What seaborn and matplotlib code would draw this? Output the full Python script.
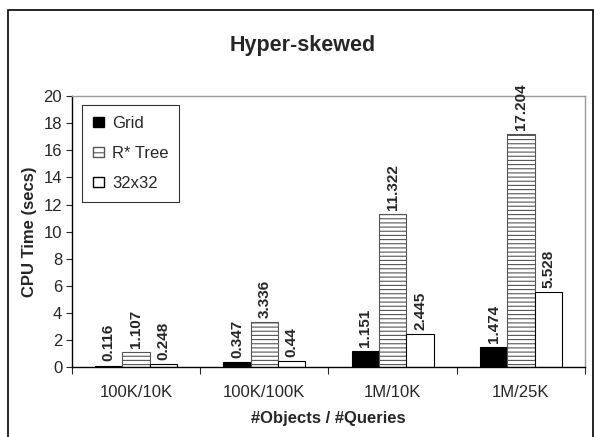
import matplotlib
matplotlib.use("Agg")
import matplotlib.pyplot as plt
import seaborn as sns
import pandas as pd
from matplotlib.patches import Rectangle, Patch

categorias = ["100K/10K", "100K/100K", "1M/10K", "1M/25K"]
series = ["Grid", "R* Tree", "32x32"]
grid = [0.116, 0.347, 1.151, 1.474]
rtree = [1.107, 3.336, 11.322, 17.204]
g32 = [0.248, 0.44, 2.445, 5.528]

sns.set_style("white")
plt.rcParams["font.family"] = ["Liberation Sans", "DejaVu Sans"]
plt.rcParams["hatch.linewidth"] = 0.8

filas = []
for i, c in enumerate(categorias):
    filas.append((c, "Grid", grid[i]))
    filas.append((c, "R* Tree", rtree[i]))
    filas.append((c, "32x32", g32[i]))
df = pd.DataFrame(filas, columns=["cat", "serie", "valor"])

fig = plt.figure(figsize=(5.94, 4.37), dpi=100)
ax = fig.add_axes([0.121, 0.160, 0.864, 0.620])

colores = {"Grid": "black", "R* Tree": "white", "32x32": "white"}
sns.barplot(data=df, x="cat", y="valor", hue="serie", order=categorias,
            hue_order=series, palette=colores, width=0.64, edgecolor="black",
            linewidth=0.8, ax=ax, legend=False)

hatches = {"Grid": "", "R* Tree": "----", "32x32": ""}
for cont, s in zip(ax.containers, series):
    for barra in cont:
        barra.set_hatch(hatches[s])
        if s == "R* Tree":
            barra.set_edgecolor("#555555")
    ax.bar_label(cont, labels=[f"{v:g}" for v in cont.datavalues], rotation=90,
                 padding=3, fontsize=11, fontweight="bold")

ax.set_ylim(0, 20)
ax.set_yticks(range(0, 21, 2))
ax.set_xlim(-0.5, 3.5)
ax.set_xticks([0, 1, 2, 3])
ax.set_xticks([-0.5, 0.5, 1.5, 2.5, 3.5], minor=True)
ax.tick_params(axis="x", which="major", length=0, labelsize=12, pad=13)
ax.tick_params(axis="x", which="minor", length=5, width=0.8, direction="out", bottom=True)
ax.tick_params(axis="y", length=4, width=0.8, direction="out", left=True, labelsize=12, pad=3)
for lado in ["left", "bottom"]:
    ax.spines[lado].set_color("black")
    ax.spines[lado].set_linewidth(1)
for lado in ["right", "top"]:
    ax.spines[lado].set_color("#999999")
    ax.spines[lado].set_linewidth(1)

ax.set_xlabel("#Objects / #Queries", fontsize=12, fontweight="bold", labelpad=8)
ax.set_ylabel("CPU Time (secs)", fontsize=12, fontweight="bold", labelpad=5)
fig.text(0.51, 0.895, "Hyper-skewed", ha="center", va="center",
         fontsize=15.5, fontweight="bold")

handles = [Patch(facecolor="black", edgecolor="black"),
           Patch(facecolor="white", edgecolor="#555555", hatch="---"),
           Patch(facecolor="white", edgecolor="black")]
leg = ax.legend(handles, series, loc="upper left", bbox_to_anchor=(0.0195, 0.967),
                frameon=True, fancybox=False, edgecolor="black", fontsize=12,
                handlelength=0.7, handleheight=0.6, handletextpad=0.45,
                labelspacing=0.9, borderpad=0.65, borderaxespad=0)
leg.get_frame().set_linewidth(0.8)

fig.patches.append(Rectangle((0.0135, -0.01), 0.985, 0.987, transform=fig.transFigure,
                             fill=False, edgecolor="black", linewidth=1.2))

fig.savefig("out.png", dpi=100)
